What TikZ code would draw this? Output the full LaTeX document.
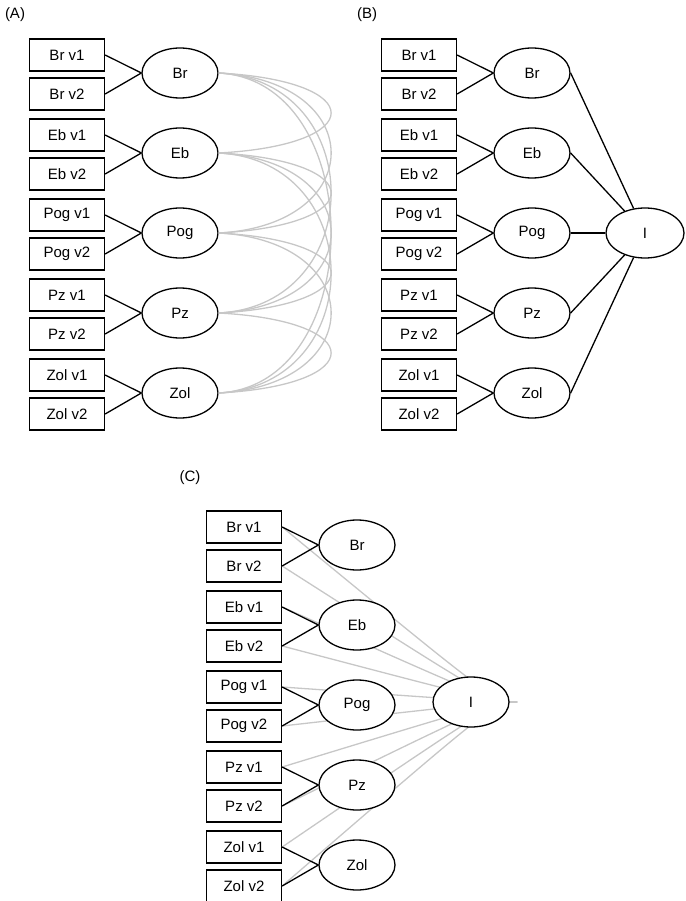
\documentclass[tikz,border=0pt]{standalone}
\usepackage{fontspec}
\setmainfont{Liberation Sans}
\usetikzlibrary{shapes.geometric}
\tikzset{
 obs/.style={draw,line width=1.3pt,minimum width=75pt,minimum height=32pt,inner sep=0pt,font=\fontsize{15}{15}\selectfont,fill=white},
 lat/.style={draw,ellipse,line width=1.3pt,minimum width=76pt,minimum height=50pt,inner sep=0pt,font=\fontsize{15}{15}\selectfont,fill=white},
 bl/.style={line width=1.3pt},
 gl/.style={line width=1.3pt,draw=black!22},
 lab/.style={font=\fontsize{15}{15}\selectfont}
}
\begin{document}
\begin{tikzpicture}[x=1pt,y=-1pt]
\useasboundingbox (0,0) rectangle (685,901);
% ---------- Panel A ----------
\node[lab] (LA) at (15,15) {(A)};
\foreach \n/\y in {Br/0,Eb/80,Pog/160,Pz/240,Zol/320}{
  \node[obs] (A\n1) at (67,55+\y) {\n\ v1};
  \node[obs] (A\n2) at (67,94+\y) {\n\ v2};
  \node[lat] (A\n) at (180,73+\y) {\n};
  \draw[bl] (A\n1.east) -- (A\n.west);
  \draw[bl] (A\n2.east) -- (A\n.west);
}
\foreach \a/\b in {Br/Eb,Br/Pog,Br/Pz,Br/Zol,Eb/Pog,Eb/Pz,Eb/Zol,Pog/Pz,Pog/Zol,Pz/Zol}{
  \draw[gl] (A\a.east) .. controls +(150,8) and +(150,-8) .. (A\b.east);
}
% ---------- Panel B ----------
\node[lab] (LB) at (367,15) {(B)};
\node[lat,minimum width=78pt] (BI) at (645,233) {I};
\foreach \n/\y in {Br/0,Eb/80,Pog/160,Pz/240,Zol/320}{
  \node[obs] (B\n1) at (419,55+\y) {\n\ v1};
  \node[obs] (B\n2) at (419,94+\y) {\n\ v2};
  \node[lat] (B\n) at (532,73+\y) {\n};
  \draw[bl] (B\n1.east) -- (B\n.west);
  \draw[bl] (B\n2.east) -- (B\n.west);
  \draw[bl] (B\n.east) -- (BI);
}
% ---------- Panel C ----------
\node[lab] (LC) at (190,478) {(C)};
\coordinate (P) at (517,702);
\foreach \n/\y in {Br/0,Eb/80,Pog/160,Pz/240,Zol/320}{
  \node[obs] (C\n1) at (244,527+\y) {\n\ v1};
  \node[obs] (C\n2) at (244,566+\y) {\n\ v2};
  \draw[gl] (C\n1.east) .. controls (495,702) .. (P);
  \draw[gl] (C\n2.east) .. controls (495,702) .. (P);
}
\node[lat] (CI) at (471,702) {I};
\foreach \n/\y in {Br/0,Eb/80,Pog/160,Pz/240,Zol/320}{
  \node[lat] (C\n) at (357,545+\y) {\n};
  \draw[bl] (C\n1.east) -- (C\n.west);
  \draw[bl] (C\n2.east) -- (C\n.west);
}
\end{tikzpicture}
\end{document}
